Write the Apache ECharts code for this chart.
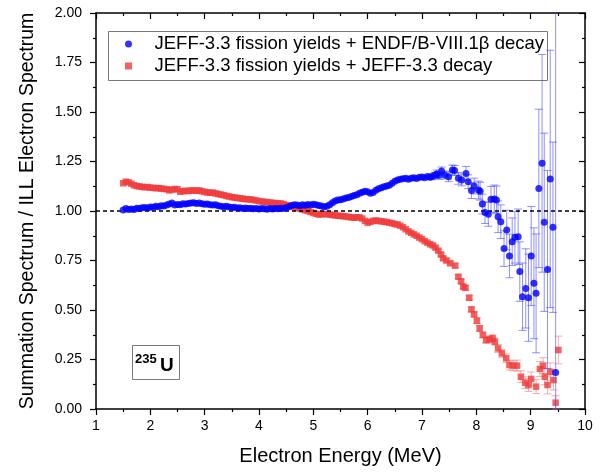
<!DOCTYPE html>
<html><head><meta charset="utf-8">
<script src="https://cdn.jsdelivr.net/npm/echarts@6/dist/echarts.min.js"></script>
<style>html,body{margin:0;padding:0;background:#fff}#c{width:611px;height:472px}</style>
</head><body><div id="c"></div>
<script>
// ---- data ----
const lowEnergy = [
1.50,1.55,1.60,1.65,1.70,1.75,1.80,1.85,1.90,1.95,
2.00,2.05,2.10,2.15,2.20,2.25,2.30,2.35,2.40,2.45,
2.50,2.55,2.60,2.65,2.70,2.75,2.80,2.85,2.90,2.95,
3.00,3.05,3.10,3.15,3.20,3.25,3.30,3.35,3.40,3.45,
3.50,3.55,3.60,3.65,3.70,3.75,3.80,3.85,3.90,3.95,
4.00,4.05,4.10,4.15,4.20,4.25,4.30,4.35,4.40,4.45,
4.50,4.55,4.60,4.65,4.70,4.75,4.80,4.85,4.90,4.95,
5.00,5.05,5.10,5.15,5.20,5.25,5.30,5.35,5.40,5.45,
5.50,5.55,5.60,5.65,5.70,5.75,5.80,5.85,5.90,5.95,
6.00,6.05,6.10,6.15,6.20,6.25,6.30,6.35,6.40,6.45,
6.50,6.55,6.60,6.65,6.70,6.75,6.80,6.85,6.90,6.95,
7.00,7.05,7.10,7.15];
const blueLow = [
1.005,1.012,1.008,1.010,1.007,1.014,1.012,1.016,1.018,1.015,
1.020,1.019,1.024,1.022,1.027,1.025,1.030,1.035,1.041,1.030,
1.033,1.032,1.036,1.035,1.038,1.040,1.042,1.038,1.041,1.036,
1.034,1.035,1.032,1.030,1.031,1.027,1.024,1.022,1.024,1.020,
1.018,1.019,1.015,1.016,1.013,1.015,1.012,1.014,1.011,1.012,
1.010,1.013,1.011,1.009,1.012,1.010,1.013,1.011,1.014,1.012,
1.016,1.022,1.028,1.032,1.030,1.027,1.031,1.029,1.033,1.030,
1.034,1.031,1.028,1.025,1.022,1.024,1.032,1.042,1.050,1.055,
1.057,1.060,1.066,1.068,1.073,1.078,1.082,1.090,1.095,1.100,
1.097,1.090,1.093,1.105,1.112,1.118,1.122,1.126,1.130,1.140,
1.150,1.156,1.160,1.163,1.165,1.160,1.165,1.168,1.164,1.170,
1.172,1.168,1.174,1.170];
const redLow = [
1.140,1.148,1.145,1.138,1.130,1.126,1.124,1.122,1.120,1.121,
1.118,1.117,1.115,1.116,1.113,1.112,1.110,1.104,1.108,1.111,
1.110,1.097,1.100,1.102,1.101,1.103,1.104,1.102,1.104,1.100,
1.096,1.094,1.092,1.093,1.089,1.086,1.083,1.080,1.076,1.073,
1.070,1.068,1.066,1.064,1.062,1.060,1.059,1.058,1.056,1.053,
1.050,1.048,1.046,1.045,1.043,1.041,1.040,1.039,1.038,1.035,
1.030,1.027,1.024,1.020,1.016,1.012,1.008,1.004,1.000,0.995,
0.990,0.986,0.982,0.983,0.985,0.984,0.982,0.980,0.978,0.976,
0.975,0.974,0.972,0.970,0.968,0.966,0.968,0.968,0.962,0.950,
0.941,0.945,0.950,0.952,0.950,0.948,0.946,0.944,0.941,0.938,
0.934,0.932,0.926,0.918,0.908,0.897,0.890,0.882,0.875,0.866,
0.858,0.848,0.840,0.832];

const blueHighEnergy = [7.18,7.23,7.27,7.31,7.36,7.42,7.49,7.56,7.60,7.67,
7.73,7.81,7.85,7.91,7.96,8.04,8.07,8.11,8.16,8.22,
8.27,8.33,8.37,8.40,8.45,8.51,8.56,8.61,8.66,8.71,
8.77,8.80,8.85,8.91,8.96,9.01,9.06,9.10,9.15,9.21,
9.25,9.31,9.36,9.41,9.46];
const blueHigh = [1.173,1.180,1.187,1.180,1.202,1.182,1.173,1.207,1.205,1.165,
1.157,1.190,1.148,1.103,1.126,1.106,1.100,1.035,0.992,0.983,
1.059,1.061,1.056,0.971,0.946,0.810,0.904,0.773,0.845,0.867,
0.870,0.694,0.567,0.609,0.562,0.773,0.635,0.584,1.114,1.241,
0.943,0.705,1.162,0.918,0.184];
const blueHighErr = [0.015,0.015,0.02,0.02,0.02,0.02,0.025,0.025,0.025,0.03,
0.03,0.035,0.035,0.04,0.04,0.045,0.045,0.05,0.055,0.06,
0.065,0.07,0.07,0.08,0.085,0.09,0.1,0.11,0.12,0.13,
0.14,0.15,0.17,0.2,0.22,0.25,0.28,0.3,0.4,0.55,
0.45,0.5,0.65,0.43,1.9];

const redHighEnergy = [7.20,7.25,7.30,7.35,7.39,7.45,7.52,7.61,7.67,7.72,
7.76,7.80,7.87,7.91,7.96,8.01,8.06,8.12,8.18,8.24,
8.30,8.34,8.40,8.47,8.55,8.61,8.68,8.75,8.82,8.90,
8.96,9.01,9.10,9.17,9.23,9.26,9.31,9.36,9.42,9.46,
9.51];
const redHigh = [0.826,0.815,0.800,0.780,0.761,0.750,0.736,0.724,0.668,0.645,
0.618,0.612,0.562,0.503,0.478,0.446,0.407,0.374,0.348,0.352,
0.357,0.340,0.306,0.281,0.256,0.222,0.219,0.219,0.163,0.133,
0.121,0.152,0.113,0.202,0.219,0.163,0.121,0.188,0.146,0.032,
0.298];
const redHighErr = [0.008,0.008,0.008,0.008,0.008,0.01,0.01,0.01,0.01,0.01,
0.01,0.012,0.012,0.012,0.012,0.015,0.015,0.015,0.015,0.018,
0.018,0.018,0.02,0.02,0.022,0.025,0.025,0.028,0.03,0.03,
0.032,0.035,0.035,0.038,0.04,0.04,0.045,0.045,0.05,0.035,
0.07];

const xTicks = {min: 1, max: 10, interval: 1};
const yTicks = {min: 0, max: 2, interval: 0.25};
const BLUE_NAME = 'JEFF-3.3 fission yields + ENDF/B-VIII.1\u03B2 decay';
const RED_NAME = 'JEFF-3.3 fission yields + JEFF-3.3 decay';
const referenceLine = 1;

// ---- build ----
const FONT = '"Liberation Sans", Arial, Helvetica, sans-serif';
function pts(E, v) { return E.map((x, i) => [x, v[i]]); }
function errData(E, v, e) {
  return E.map((x, i) => {
    const hi = v[i] + e[i];
    const lo = Math.max(yTicks.min, v[i] - e[i]);
    return [x, lo, Math.min(hi, yTicks.max), hi > yTicks.max ? 1 : 0];
  });
}
function errRender(color, cap) {
  return function (params, api) {
    const x = api.value(0);
    const pTop = api.coord([x, api.value(2)]);
    const pBot = api.coord([x, api.value(1)]);
    const st = {stroke: color, lineWidth: 1};
    const ch = [
      {type: 'line', shape: {x1: pTop[0], y1: pTop[1], x2: pBot[0], y2: pBot[1]}, style: st},
      {type: 'line', shape: {x1: pBot[0] - cap, y1: pBot[1], x2: pBot[0] + cap, y2: pBot[1]}, style: st}
    ];
    if (!api.value(3)) ch.push({type: 'line', shape: {x1: pTop[0] - cap, y1: pTop[1], x2: pTop[0] + cap, y2: pTop[1]}, style: st});
    return {type: 'group', children: ch};
  };
}

const axisLine = {show: true, onZero: false, lineStyle: {color: '#000', width: 1.5}};
const tickStyle = {color: '#000', width: 1.2};
const chart = echarts.init(document.getElementById('c'), null, {renderer: 'canvas'});
chart.setOption({
  animation: false,
  backgroundColor: '#fff',
  grid: {left: 96, right: 26, top: 13, bottom: 63, containLabel: false},
  legend: {
    orient: 'vertical', left: 125, top: 34, padding: 0,
    itemWidth: 42, itemHeight: 7, itemGap: 2,
    data: [{name: BLUE_NAME, icon: 'circle'}, {name: RED_NAME, icon: 'path://M0,0L10,0L10,10L0,10Z'}],
    textStyle: {fontSize: 18.5, fontFamily: FONT, color: '#000', lineHeight: 20}
  },
  xAxis: [{
    type: 'value', ...xTicks, position: 'bottom',
    axisLine, axisTick: {show: true, length: 6, lineStyle: tickStyle},
    minorTick: {show: true, splitNumber: 2, length: 3, lineStyle: tickStyle},
    splitLine: {show: false},
    axisLabel: {color: '#000', fontSize: 14, fontFamily: FONT, margin: 10},
    name: 'Electron Energy (MeV)', nameLocation: 'middle', nameGap: 37,
    nameTextStyle: {fontSize: 20, color: '#000', fontFamily: FONT}
  }, {
    type: 'value', ...xTicks, position: 'top',
    axisLine, axisTick: {show: true, inside: true, length: 6, lineStyle: tickStyle},
    minorTick: {show: true, splitNumber: 2, length: 3, lineStyle: tickStyle},
    splitLine: {show: false}, axisLabel: {show: false}
  }],
  yAxis: [{
    type: 'value', ...yTicks, position: 'left',
    axisLine, axisTick: {show: true, length: 6, lineStyle: tickStyle},
    minorTick: {show: true, splitNumber: 2, length: 3, lineStyle: tickStyle},
    splitLine: {show: false},
    axisLabel: {color: '#000', fontSize: 14, fontFamily: FONT, margin: 14, formatter: v => v.toFixed(2)},
    name: 'Summation Spectrum / ILL Electron Spectrum', nameLocation: 'middle', nameGap: 58,
    nameTextStyle: {fontSize: 19.5, color: '#000', fontFamily: FONT}
  }, {
    type: 'value', ...yTicks, position: 'right',
    axisLine, axisTick: {show: true, inside: true, length: 6, lineStyle: tickStyle},
    minorTick: {show: true, splitNumber: 2, length: 3, lineStyle: tickStyle},
    splitLine: {show: false}, axisLabel: {show: false}
  }],
  graphic: [
    {type: 'rect', left: 106, top: 29, shape: {width: 439, height: 49}, style: {fill: 'none', stroke: '#777', lineWidth: 1}},
    {type: 'rect', left: 132, top: 345, shape: {width: 47, height: 34}, style: {fill: '#fff', stroke: '#777', lineWidth: 1}},
    {type: 'text', left: 135, top: 353, style: {text: '235', font: 'bold 13px ' + FONT, fill: '#000'}},
    {type: 'text', left: 160, top: 356, style: {text: 'U', font: 'bold 19px ' + FONT, fill: '#000'}}
  ],
  series: [
    {
      name: 'redErr', type: 'custom', xAxisIndex: 0, yAxisIndex: 0, z: 2,
      renderItem: errRender('rgba(240,110,110,0.55)', 4),
      data: errData(redHighEnergy, redHigh, redHighErr), encode: {x: 0, y: [1, 2]}
    },
    {
      name: RED_NAME, type: 'scatter', xAxisIndex: 0, yAxisIndex: 0, z: 3,
      symbol: 'rect', symbolSize: 6.5, itemStyle: {color: '#f03a3a'},
      data: pts(lowEnergy, redLow).concat(pts(redHighEnergy, redHigh)),
      markLine: {
        silent: true, symbol: ['none', 'none'], label: {show: false},
        lineStyle: {color: '#000', type: [4, 3], width: 1.5},
        data: [{yAxis: referenceLine}]
      }
    },
    {
      name: 'blueErr', type: 'custom', xAxisIndex: 0, yAxisIndex: 0, z: 4,
      renderItem: errRender('rgba(70,70,255,0.6)', 4),
      data: errData(blueHighEnergy, blueHigh, blueHighErr), encode: {x: 0, y: [1, 2]}
    },
    {
      name: BLUE_NAME, type: 'scatter', xAxisIndex: 0, yAxisIndex: 0, z: 5,
      symbol: 'circle', symbolSize: 7, itemStyle: {color: '#0000ff'},
      data: pts(lowEnergy, blueLow).concat(pts(blueHighEnergy, blueHigh))
    }
  ]
});
</script>
</body></html>
